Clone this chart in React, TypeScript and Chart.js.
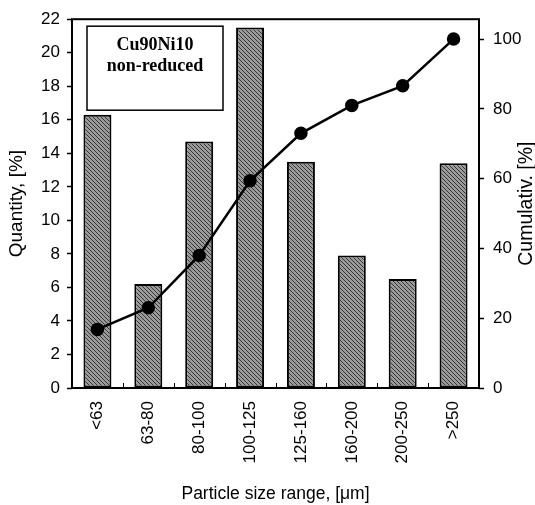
import React, { useEffect, useRef } from "react";
import { Chart, registerables } from "chart.js";

Chart.register(...registerables);

const categories = ["<63", "63-80", "80-100", "100-125", "125-160", "160-200", "200-250", ">250"];
const quantity = [16.3, 6.2, 14.7, 21.5, 13.5, 7.9, 6.5, 13.4];
const cumulative = [16.8, 23.0, 38.0, 59.4, 73.0, 81.0, 86.6, 100.0];
const boxLines = ["Cu90Ni10", "non-reduced"];
const xTitle = "Particle size range, [\u03bcm]";
const yTitle = "Quantity, [%]";
const y1Title = "Cumulativ. [%]";

const SANS = "'Liberation Sans', Arial, Helvetica, sans-serif";
const SERIF = "'Liberation Serif', 'Times New Roman', serif";

function makeHatch(): CanvasPattern | string {
  const c = document.createElement("canvas");
  c.width = 4;
  c.height = 4;
  const g = c.getContext("2d");
  if (!g) return "#888";
  g.fillStyle = "#9a9a9a";
  g.fillRect(0, 0, 4, 4);
  g.strokeStyle = "#383838";
  g.lineWidth = 1;
  g.beginPath();
  g.moveTo(-1, -1);
  g.lineTo(5, 5);
  g.moveTo(-1, 3);
  g.lineTo(1, 5);
  g.moveTo(3, -1);
  g.lineTo(5, 1);
  g.stroke();
  const p = g.createPattern(c, "repeat");
  return p || "#888";
}

const decorPlugin = {
  id: "decor",
  afterDatasetsDraw(chart: any) {
    const { ctx, chartArea: ca, scales } = chart;
    ctx.save();
    const xs = scales.x;
    ctx.strokeStyle = "#000";
    ctx.lineWidth = 1;
    for (let i = 0; i < categories.length - 1; i++) {
      const a = xs.getPixelForValue(i);
      const b = xs.getPixelForValue(i + 1);
      const m = Math.round((a + b) / 2) + 0.5;
      ctx.beginPath();
      ctx.moveTo(m, ca.bottom);
      ctx.lineTo(m, ca.bottom - 5);
      ctx.stroke();
    }
    ctx.lineWidth = 2;
    ctx.strokeRect(ca.left, ca.top, ca.right - ca.left, ca.bottom - ca.top);
    const bx = ca.left + 15;
    const by = ca.top + 7;
    const bw = 136;
    const bh = 84;
    ctx.fillStyle = "#fff";
    ctx.fillRect(bx, by, bw, bh);
    ctx.lineWidth = 1.5;
    ctx.strokeRect(bx, by, bw, bh);
    ctx.fillStyle = "#000";
    ctx.font = "bold 18px " + SERIF;
    ctx.textAlign = "center";
    ctx.textBaseline = "middle";
    ctx.fillText(boxLines[0], bx + bw / 2, by + 19);
    ctx.fillText(boxLines[1], bx + bw / 2, by + 40);
    ctx.translate(527, (ca.top + ca.bottom) / 2);
    ctx.rotate(-Math.PI / 2);
    ctx.font = "19.5px " + SANS;
    ctx.fillText(y1Title, 0, 0);
    ctx.restore();
  },
};

export default function App() {
  const ref = useRef<HTMLCanvasElement | null>(null);
  useEffect(() => {
    document.body.style.margin = "0";
    const canvas = ref.current;
    if (!canvas) return;
    const hatch = makeHatch();
    const chart = new Chart(canvas, {
      data: {
        labels: categories,
        datasets: [
          {
            type: "line",
            label: "Cumulative",
            data: cumulative,
            yAxisID: "y1",
            borderColor: "#000",
            borderWidth: 2.5,
            pointRadius: 5.5,
            pointBackgroundColor: "#000",
            pointBorderColor: "#000",
            tension: 0,
            order: 0,
          } as any,
          {
            type: "bar",
            label: "Quantity",
            data: quantity,
            yAxisID: "y",
            backgroundColor: hatch as any,
            borderColor: "#000",
            borderWidth: 2,
            borderSkipped: false,
            barPercentage: 0.55,
            categoryPercentage: 1,
            order: 1,
          } as any,
        ],
      },
      options: {
        responsive: false,
        animation: false,
        layout: { padding: { top: 16, left: 0, right: 0, bottom: 0 } },
        plugins: { legend: { display: false }, tooltip: { enabled: false } },
        scales: {
          x: {
            type: "category",
            offset: true,
            grid: { display: false, drawTicks: false },
            border: { display: false },
            ticks: {
              color: "#000",
              font: { family: SANS, size: 17 },
              minRotation: 90,
              maxRotation: 90,
              padding: 13,
            },
            title: {
              display: true,
              text: xTitle,
              color: "#000",
              font: { family: SANS, size: 17.5 },
              padding: { top: 0, bottom: 0 },
            },
            afterFit(scale: any) {
              scale.height = 117;
            },
          },
          y: {
            position: "left",
            min: 0,
            max: 22,
            ticks: {
              stepSize: 2,
              color: "#000",
              font: { family: SANS, size: 17 },
              padding: 7,
            },
            grid: { drawOnChartArea: false, tickLength: 5, color: "#000", tickWidth: 1.5 },
            border: { display: false },
            title: {
              display: true,
              text: yTitle,
              color: "#000",
              font: { family: SANS, size: 19 },
              padding: { top: 5, bottom: 0 },
            },
            afterFit(scale: any) {
              scale.width = 72;
            },
          },
          y1: {
            position: "right",
            min: 0,
            max: 105.7,
            ticks: {
              stepSize: 20,
              color: "#000",
              font: { family: SANS, size: 17 },
              padding: 9,
            },
            afterBuildTicks(scale: any) {
              scale.ticks = scale.ticks.filter((t: any) => Math.abs(t.value % 20) < 1e-6);
            },
            grid: { drawOnChartArea: false, tickLength: 5, color: "#000", tickWidth: 1.5 },
            border: { display: false },
            afterFit(scale: any) {
              scale.width = 56;
            },
          },
        },
      },
      plugins: [decorPlugin],
    });
    return () => chart.destroy();
  }, []);
  return (
    <div style={{ width: 535, height: 505, background: "#fff" }}>
      <canvas ref={ref} width={535} height={505} style={{ display: "block" }} />
    </div>
  );
}
